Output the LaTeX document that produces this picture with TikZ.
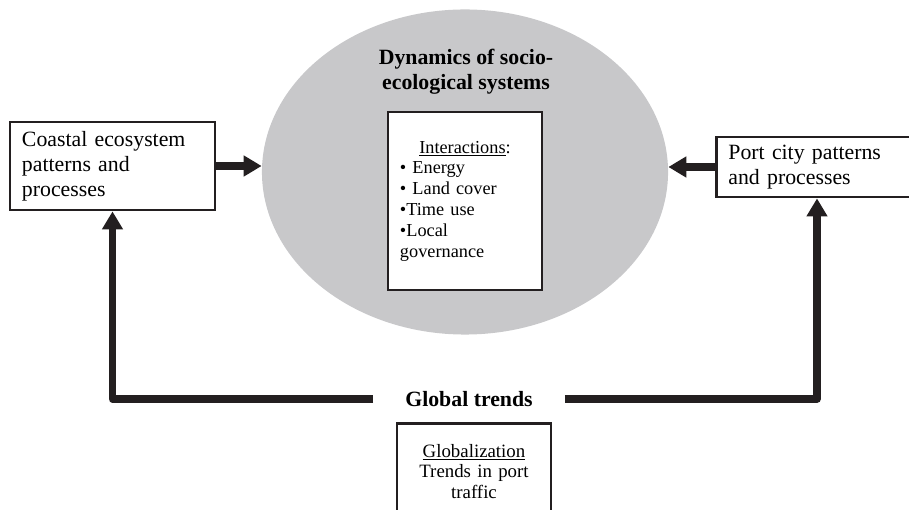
\documentclass[tikz,border=0pt]{standalone}
\usepackage{fontspec}
\setmainfont{Liberation Serif}
\usetikzlibrary{arrows.meta,shapes.geometric}
\definecolor{sysgray}{RGB}{200,200,202}
\definecolor{ink}{RGB}{35,31,32}

\begin{document}
\begin{tikzpicture}[x=0.025cm,y=-0.025cm,>={Triangle[length=0.45cm,width=0.5cm]},
		sys node/.style={ellipse,fill=sysgray,minimum width=10.15cm,minimum height=8.125cm,inner sep=0pt},
		box node/.style={rectangle,draw=ink,line width=2pt,fill=white,inner xsep=0.3cm,align=left,font=\fontsize{15.5}{17.8}\selectfont},
		small box/.style={box node,font=\fontsize{13}{14.8}\selectfont},
		head/.style={align=center,font=\fontsize{15.5}{17.8}\selectfont\bfseries},
		link/.style={->,draw=ink,line width=5.5pt,line join=round}]
		
		\useasboundingbox (0,0) rectangle (909,510);
		\clip (0,0) rectangle (909,510);
		
		\node[sys node] (sys) at (465,172) {};
		\node[head] (systitle) at (466,72) {Dynamics of socio-\\ecological systems};
		\node[small box,text width=3.25cm,minimum height=4.45cm] (inter) at (465,201)
		{\makebox[\linewidth]{\underline{Interactions}:}\\• Energy\\• Land cover\\•Time use\\•Local\\governance};
		
		\node[box node,text width=4.525cm,minimum height=2.2cm] (coast) at (112.5,166)
		{Coastal ecosystem\\patterns and\\processes};
		\node[box node,anchor=west,text width=5cm,minimum height=1.5cm,inner ysep=0.1cm] (port) at (715,167)
		{Port city patterns\\and processes};
		
		\node[head,inner xsep=0.8cm] (trends) at (469,399) {Global trends};
		\node[small box,anchor=north,align=center,text width=3.25cm,inner ysep=0.2cm,minimum height=2.4cm,
		font=\fontsize{13.4}{14.5}\selectfont] (glob) at (474,422)
		{\underline{Globalization}\\Trends in port\\traffic};
		
		\draw[link] (coast.east) -- (coast.east -| sys.west);
		\draw[link] (port.west) -- (port.west -| sys.east);
		\draw[link] (trends.west) -| (coast.south);
		\draw[link] (trends.east) -| (port.south west -| 817,0);
\end{tikzpicture}
\end{document}
